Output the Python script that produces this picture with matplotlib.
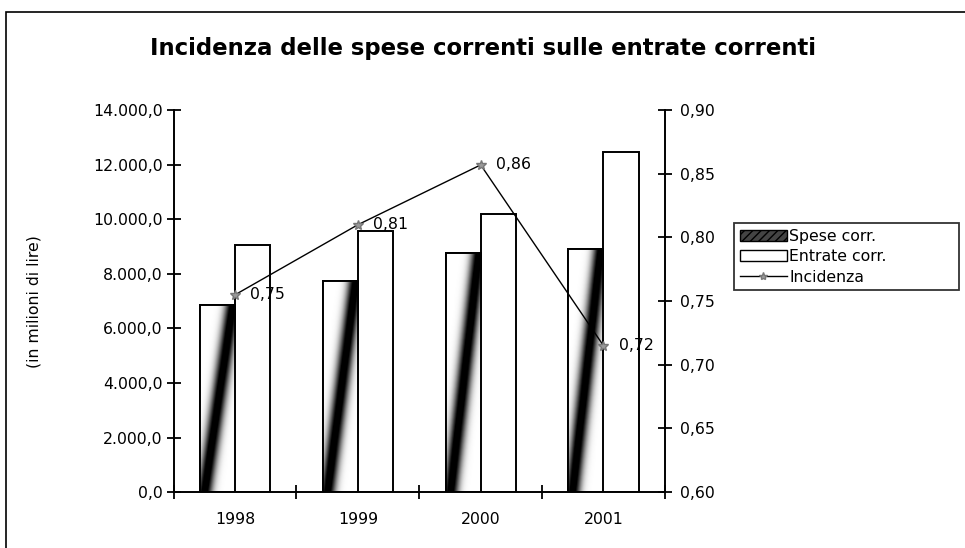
import numpy as np
import matplotlib
matplotlib.use('Agg')
import matplotlib.pyplot as plt
from matplotlib.ticker import FuncFormatter, FixedLocator
from matplotlib.patches import Rectangle, Patch
from matplotlib.lines import Line2D

anni = ['1998', '1999', '2000', '2001']
spese = [6850, 7750, 8750, 8900]
entrate = [9070, 9570, 10200, 12450]
incidenza = [0.755, 0.81, 0.857, 0.715]
etichette = ['0,75', '0,81', '0,86', '0,72']

plt.rcParams['font.family'] = 'DejaVu Sans'

fig = plt.figure(figsize=(9.65, 5.48), dpi=100)
ax = fig.add_axes([0.18, 0.102, 0.509, 0.697])
ax2 = ax.twinx()

x = np.arange(len(anni))
w = 1 / 3.5

# barre
bars_s = ax.bar(x - w / 2, spese, w, color='white', edgecolor='black', linewidth=1.4, zorder=2)
bars_e = ax.bar(x + w / 2, entrate, w, color='white', edgecolor='black', linewidth=1.4, zorder=2)

# trama a striscia diagonale delle spese
uu, vv = np.meshgrid(np.linspace(0, 1, 40), np.linspace(0, 1, 200))
d = uu - (0.12 + 0.8 * vv)
tex = np.clip(1.0 - np.exp(-(d / 0.22) ** 2) * 1.15, 0, 1)
for b in bars_s:
    x0, y0 = b.get_x(), b.get_y()
    im = ax.imshow(tex, cmap='gray', vmin=0, vmax=1, origin='lower', aspect='auto',
                   extent=[x0, x0 + b.get_width(), y0, y0 + b.get_height()], zorder=2.5)
    im.set_clip_path(b)
    ax.bar(x0 + b.get_width() / 2, b.get_height(), b.get_width(), color='none',
           edgecolor='black', linewidth=1.4, zorder=3)

ax.set_xlim(-0.5, 3.5)
ax.set_ylim(0, 14000)
ax.set_yticks(np.arange(0, 14001, 2000))
ax.yaxis.set_major_formatter(FuncFormatter(
    lambda v, p: f'{v:,.1f}'.replace(',', 'X').replace('.', ',').replace('X', '.')))
ax.set_xticks(x)
ax.set_xticklabels(anni)
ax.xaxis.set_minor_locator(FixedLocator(np.arange(-0.5, 3.6, 1)))
ax.tick_params(axis='x', which='major', length=0, pad=14, labelsize=11.3)
ax.tick_params(axis='x', which='minor', direction='inout', length=10, width=1.3)
ax.tick_params(axis='y', direction='inout', length=10, width=1.3, labelsize=11.3, pad=3)
ax.set_ylabel('(in milioni di lire)', fontsize=11.3)
ax.yaxis.set_label_coords(-0.27, 0.5)
ax.spines['top'].set_visible(False)
ax.spines['right'].set_visible(False)
for s in ['left', 'bottom']:
    ax.spines[s].set_linewidth(1.4)

# linea incidenza
ax2.plot(x, incidenza, color='black', linewidth=1.0, marker='*', markersize=7,
         markerfacecolor='#999999', markeredgecolor='#777777', zorder=5)
for xi, yi, t in zip(x, incidenza, etichette):
    ax2.annotate(t, (xi, yi), xytext=(11, 0), textcoords='offset points',
                 va='center', ha='left', fontsize=11.3)
ax2.set_ylim(0.60, 0.90)
ax2.set_yticks(np.arange(0.60, 0.901, 0.05))
ax2.yaxis.set_major_formatter(FuncFormatter(lambda v, p: f'{v:.2f}'.replace('.', ',')))
ax2.tick_params(axis='y', direction='inout', length=10, width=1.3, labelsize=11.3, pad=6)
ax2.spines['top'].set_visible(False)
ax2.spines['left'].set_visible(False)
ax2.spines['bottom'].set_visible(False)
ax2.spines['right'].set_linewidth(1.4)

ax.set_zorder(1)
ax2.set_zorder(2)
ax2.patch.set_visible(False)

fig.text(0.5, 0.912, 'Incidenza delle spese correnti sulle entrate correnti',
         ha='center', va='center', fontsize=16.4, fontweight='bold')

# legenda
handles = [Patch(facecolor='#444444', edgecolor='black', hatch='////'),
           Patch(facecolor='white', edgecolor='black'),
           Line2D([0], [0], color='black', linewidth=1, marker='*', markersize=6,
                  markerfacecolor='#999999', markeredgecolor='#777777')]
leg = fig.legend(handles, ['Spese corr.', 'Entrate corr.', 'Incidenza'],
                 loc='upper left', bbox_to_anchor=(0.761, 0.47, 0.233, 0.123), mode='expand',
                 fontsize=11.3, frameon=True, fancybox=False, edgecolor='black', borderpad=0.35,
                 labelspacing=0.35, handlelength=3.0, handletextpad=0.15, borderaxespad=0)
leg.get_frame().set_linewidth(1.3)

# cornice esterna
fig.patches.append(Rectangle((0.006, -0.1), 1.2, 1.078, transform=fig.transFigure,
                             fill=False, edgecolor='black', linewidth=1.2))

fig.savefig('out.png', dpi=100)
